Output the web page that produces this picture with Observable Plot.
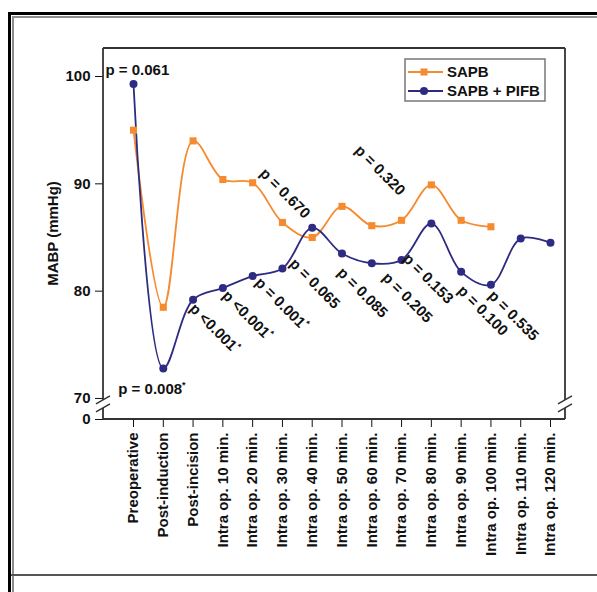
<!DOCTYPE html>
<html><head><meta charset="utf-8">
<script src="https://cdn.jsdelivr.net/npm/d3@7"></script>
<script src="https://cdn.jsdelivr.net/npm/@observablehq/plot@0.6"></script>
<style>
html,body{margin:0;padding:0;background:#fff;}
#wrap{position:relative;width:597px;height:592px;overflow:hidden;background:#fff;}
#chart{position:absolute;left:0;top:0;}
.b{position:absolute;box-sizing:content-box;}
</style></head><body>
<div id="wrap">
<div id="chart"></div>
<div class="b" style="left:8px;top:12px;width:800px;height:800px;border-left:3px solid #000;border-top:3px solid #000;"></div>
<div class="b" style="left:12px;top:16px;width:800px;height:800px;border-left:2px solid #8c8c8c;border-top:2px solid #8c8c8c;"></div>
<div class="b" style="left:11px;top:574px;width:800px;height:0;border-top:2px solid #555;"></div>
</div>
<script>
// ---- data ----
const categories = ["Preoperative","Post-induction","Post-incision","Intra op. 10 min.","Intra op. 20 min.","Intra op. 30 min.","Intra op. 40 min.","Intra op. 50 min.","Intra op. 60 min.","Intra op. 70 min.","Intra op. 80 min.","Intra op. 90 min.","Intra op. 100 min.","Intra op. 110 min.","Intra op. 120 min."];
const sapb = [95.0, 78.5, 94.0, 90.4, 90.1, 86.4, 85.0, 87.9, 86.1, 86.6, 89.9, 86.6, 86.0];
const sapbPifb = [99.3, 72.8, 79.2, 80.3, 81.4, 82.1, 85.9, 83.5, 82.6, 82.9, 86.3, 81.8, 80.6, 84.9, 84.5];
const pValues = ["p = 0.061","p = 0.008*","p <0.001*","p <0.001*","p = 0.001*","p = 0.670","p = 0.065","p = 0.085","p = 0.205","p = 0.153","p = 0.320","p = 0.100","p = 0.535"];
const yTicks = [70, 80, 90, 100];
const yZeroLabel = "0";
const seriesNames = ["SAPB", "SAPB + PIFB"];

// ---- layout (annotation anchors in data units + pixel nudges) ----
const pLayout = [
  {y:100.56, dx:-28, rotate:0},
  {y:70.84,  dx:-45, rotate:0},
  {y:78.60,  dx:-1,  rotate:45},
  {y:79.81,  dx:2,   rotate:45},
  {y:81.03,  dx:5,   rotate:45},
  {y:91.21,  dx:-20, rotate:45},
  {y:82.80,  dx:-20, rotate:45},
  {y:81.96,  dx:-2,  rotate:45},
  {y:81.50,  dx:13,  rotate:45},
  {y:83.27,  dx:4,   rotate:45},
  {y:93.36,  dx:-74, rotate:45},
  {y:80.28,  dx:-1,  rotate:45},
  {y:79.81,  dx:0,   rotate:45}
];

const orange = "#F58A2F", blue = "#2E2B82";
const yBottom = 68.04, yTop = 102.61;
const font = "'Liberation Sans', Arial, Helvetica, sans-serif";

const rowsA = sapb.map((v,i)=>({cat:categories[i], v}));
const rowsB = sapbPifb.map((v,i)=>({cat:categories[i], v}));
const ann = pValues.map((t,i)=>({cat:categories[i], text:t, ...pLayout[i]}));

function frameDeco(index, scales, values, dims) {
  const {width, height, marginLeft, marginRight, marginTop, marginBottom} = dims;
  const x0 = marginLeft, x1 = width - marginRight, y0 = marginTop, y1 = height - marginBottom;
  const yb = scales.y(70) + 2, ya = yb + 8;
  const g = d3.create("svg:g").attr("stroke", "#333").attr("stroke-width", 1.8).attr("fill", "none");
  g.append("line").attr("x1", x0).attr("x2", x1).attr("y1", y0).attr("y2", y0);
  g.append("line").attr("x1", x0).attr("x2", x1).attr("y1", y1).attr("y2", y1);
  for (const x of [x0, x1]) {
    g.append("line").attr("x1", x).attr("x2", x).attr("y1", y0).attr("y2", yb);
    g.append("line").attr("x1", x).attr("x2", x).attr("y1", ya).attr("y2", y1);
    for (const yy of [yb, ya]) {
      g.append("line").attr("x1", x-7).attr("x2", x+7).attr("y1", yy+4).attr("y2", yy-4).attr("stroke-width", 1.5);
    }
  }
  g.append("text").attr("transform", `translate(53,${(y0+y1)/2}) rotate(-90)`)
    .attr("text-anchor","middle").attr("dy","0.35em").attr("fill","#111").attr("stroke","none")
    .attr("font-size", 15).attr("font-weight","bold").text("MABP (mmHg)");
  return g.node();
}

function legend(index, scales, values, dims) {
  const g = d3.create("svg:g");
  g.append("rect").attr("x",405).attr("y",59).attr("width",140).attr("height",42)
    .attr("fill","#fff").attr("stroke","#777").attr("stroke-width",1.5);
  const items = [{name:seriesNames[0], color:orange, sym:"square", y:72},{name:seriesNames[1], color:blue, sym:"circle", y:91}];
  for (const it of items) {
    g.append("line").attr("x1",408).attr("x2",443).attr("y1",it.y).attr("y2",it.y).attr("stroke",it.color).attr("stroke-width",1.8);
    if (it.sym === "square") g.append("rect").attr("x",420.5).attr("y",it.y-3.5).attr("width",7).attr("height",7).attr("fill",it.color);
    else g.append("circle").attr("cx",424).attr("cy",it.y).attr("r",4).attr("fill",it.color);
    g.append("text").attr("x",447).attr("y",it.y).attr("dy","0.35em").attr("text-anchor","start")
      .attr("font-size",15).attr("font-weight","bold").attr("fill","#111").text(it.name);
  }
  return g.node();
}

const svg = Plot.plot({
  width: 597, height: 592,
  marginTop: 48, marginBottom: 173, marginLeft: 103, marginRight: 32,
  style: {fontFamily: font, fontSize: "15px", fontWeight: "bold", color: "#111", background: "transparent"},
  x: {type: "point", domain: categories, padding: 0, round: false, insetLeft: 30, insetRight: 15, tickRotate: -90, tickSize: 8, tickPadding: 5, label: null},
  y: {domain: [yBottom, yTop], ticks: [yBottom, ...yTicks], tickFormat: d => d === yBottom ? yZeroLabel : d, tickSize: 8, tickPadding: 5, label: null},
  marks: [
    frameDeco,
    Plot.line(rowsA, {x: "cat", y: "v", stroke: orange, strokeWidth: 1.8, curve: "catmull-rom"}),
    Plot.line(rowsB, {x: "cat", y: "v", stroke: blue, strokeWidth: 1.8, curve: "catmull-rom"}),
    Plot.dot(rowsA, {x: "cat", y: "v", symbol: "square", fill: orange, r: 4}),
    Plot.dot(rowsB, {x: "cat", y: "v", symbol: "circle", fill: blue, r: 4}),
    ...ann.map(a => Plot.text([a], {x: "cat", y: "y", text: "text", dx: a.dx, rotate: a.rotate, textAnchor: "start", fontSize: 15, fontWeight: "bold", fill: "#111"})),
    legend
  ]
});

d3.select(svg).selectAll("text").each(function() {
  const t = this.textContent;
  if (this.childElementCount === 0 && t.endsWith("*")) {
    this.textContent = t.slice(0, -1);
    d3.select(this).append("tspan").attr("font-size", 9).attr("dy", "-0.7em").text("*");
  }
});

document.getElementById("chart").appendChild(svg);
</script>
</body></html>
